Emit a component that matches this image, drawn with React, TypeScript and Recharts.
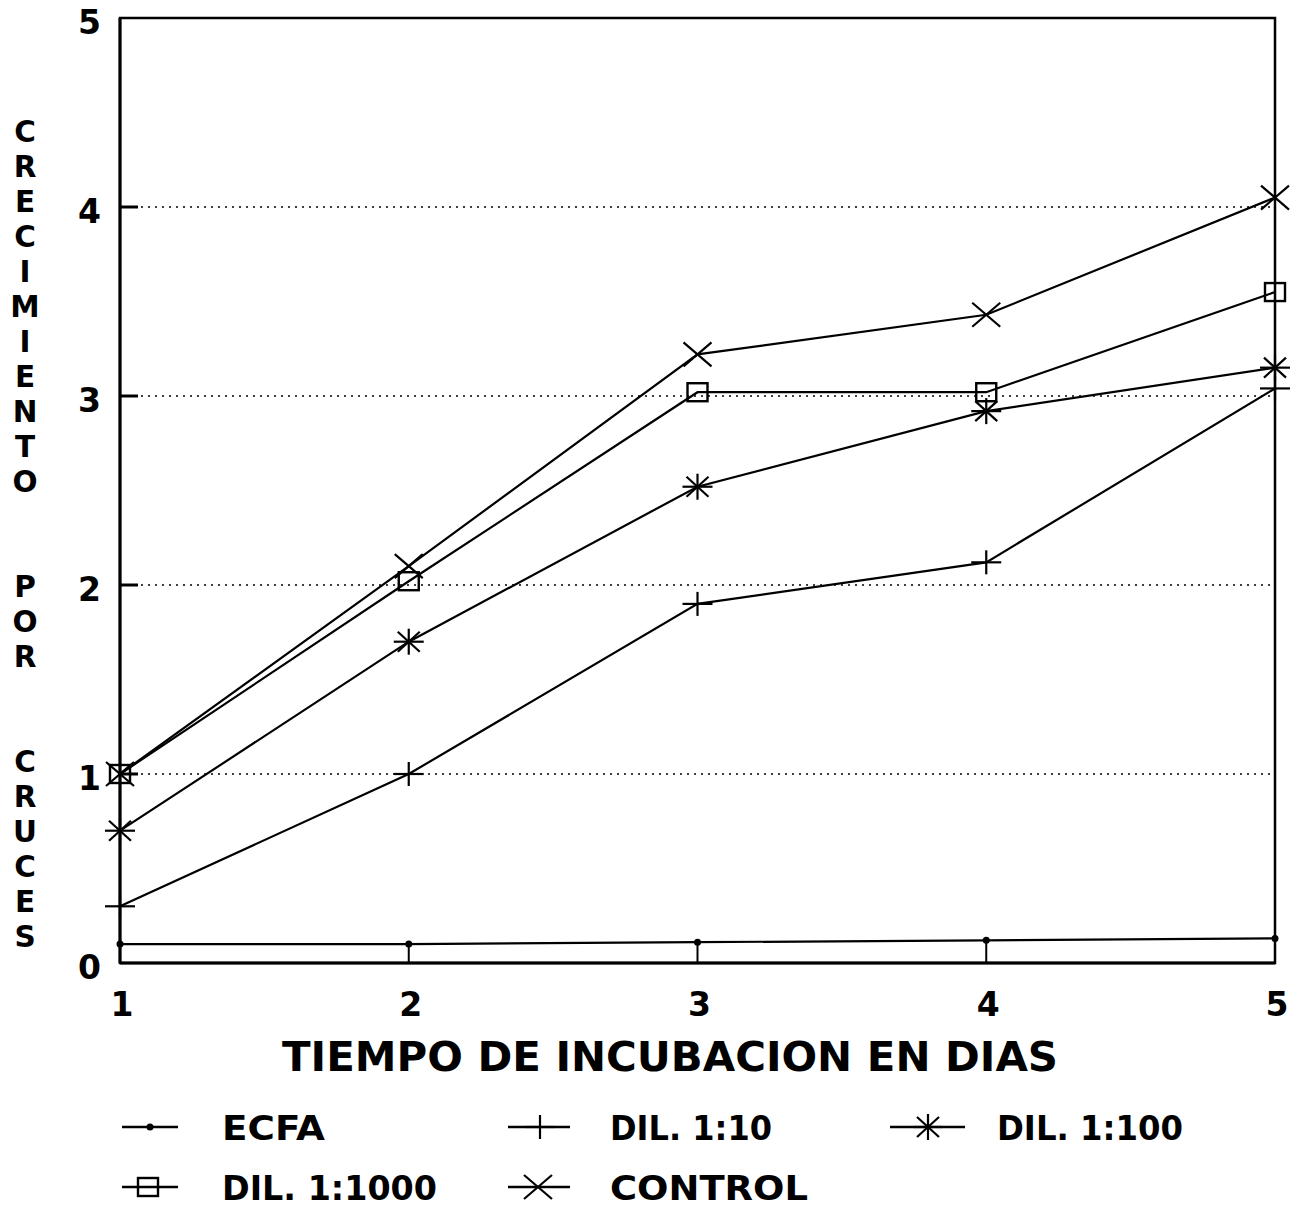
import React from "react";
import {
  LineChart,
  Line,
  XAxis,
  YAxis,
  CartesianGrid,
  ReferenceArea,
} from "recharts";

const days = [1, 2, 3, 4, 5];
const ecfa = [0.1, 0.1, 0.11, 0.12, 0.13];
const dil10 = [0.3, 1.0, 1.9, 2.12, 3.04];
const dil100 = [0.7, 1.7, 2.52, 2.92, 3.15];
const dil1000 = [1.0, 2.02, 3.02, 3.02, 3.55];
const control = [1.0, 2.1, 3.22, 3.43, 4.05];

const xTicks = [1, 2, 3, 4, 5];
const yTicks = [0, 1, 2, 3, 4, 5];

const seriesNames = ["ECFA", "DIL. 1:10", "DIL. 1:100", "DIL. 1:1000", "CONTROL"];
const seriesKeys = ["ecfa", "dil10", "dil100", "dil1000", "control"];
const seriesMarkers = ["dot", "plus", "star", "square", "cross"];

const xTitle = "TIEMPO DE INCUBACION EN DIAS";
const yTitle = "CRECIMIENTO  POR  CRUCES";

const data = days.map((d, i) => ({
  day: d,
  ecfa: ecfa[i],
  dil10: dil10[i],
  dil100: dil100[i],
  dil1000: dil1000[i],
  control: control[i],
}));

const FONT = "'DejaVu Sans', 'Liberation Sans', Arial, sans-serif";
const W = 1300;
const H = 1209;
const PLOT_LEFT = 120;
const PLOT_TOP = 18;
const PLOT_RIGHT = 1275;
const PLOT_BOTTOM = 963;

function Marker({ type, cx, cy }: { type: string; cx: number; cy: number }) {
  const s = "#000";
  if (type === "dot") return <circle cx={cx} cy={cy} r={3.5} fill={s} />;
  if (type === "plus")
    return (
      <g stroke={s} strokeWidth={2.2}>
        <line x1={cx - 15} y1={cy} x2={cx + 15} y2={cy} />
        <line x1={cx} y1={cy - 12} x2={cx} y2={cy + 12} />
      </g>
    );
  if (type === "star")
    return (
      <g stroke={s} strokeWidth={2.2}>
        <line x1={cx - 15} y1={cy} x2={cx + 15} y2={cy} />
        <line x1={cx} y1={cy - 13} x2={cx} y2={cy + 13} />
        <line x1={cx - 11} y1={cy - 10} x2={cx + 11} y2={cy + 10} />
        <line x1={cx - 11} y1={cy + 10} x2={cx + 11} y2={cy - 10} />
      </g>
    );
  if (type === "square")
    return <rect x={cx - 10} y={cy - 9} width={20} height={18} fill="none" stroke={s} strokeWidth={2.4} />;
  return (
    <g stroke={s} strokeWidth={2.2}>
      <line x1={cx - 14} y1={cy - 12} x2={cx + 14} y2={cy + 12} />
      <line x1={cx - 14} y1={cy + 12} x2={cx + 14} y2={cy - 12} />
    </g>
  );
}

const YTick = (props: any) => {
  const { payload } = props;
  const y = payload.coordinate;
  const v = payload.value;
  return (
    <g>
      {v > 0 && v < 5 && (
        <line x1={PLOT_LEFT} y1={y} x2={PLOT_LEFT + 18} y2={y} stroke="#000" strokeWidth={3} />
      )}
      <text
        x={PLOT_LEFT - 19}
        y={y + 16}
        textAnchor="end"
        fontFamily={FONT}
        fontWeight="bold"
        fontSize={33}
        fill="#000"
      >
        {v}
      </text>
    </g>
  );
};

const XTick = (props: any) => {
  const { payload } = props;
  const x = payload.coordinate;
  const v = payload.value;
  return (
    <g>
      {v > 1 && v < 5 && (
        <line x1={x} y1={PLOT_BOTTOM} x2={x} y2={PLOT_BOTTOM - 20} stroke="#000" strokeWidth={2} />
      )}
      <text
        x={x + 2}
        y={PLOT_BOTTOM + 53}
        textAnchor="middle"
        fontFamily={FONT}
        fontWeight="bold"
        fontSize={33}
        fill="#000"
      >
        {v}
      </text>
    </g>
  );
};

const legendPos = [
  { sx1: 122, sx2: 178, mx: 150, y: 1127, tx: 222, tw: 103 },
  { sx1: 508, sx2: 570, mx: 540, y: 1127, tx: 610, tw: 162 },
  { sx1: 890, sx2: 965, mx: 928, y: 1127, tx: 997, tw: 186 },
  { sx1: 122, sx2: 178, mx: 148, y: 1187, tx: 222, tw: 215 },
  { sx1: 508, sx2: 570, mx: 538, y: 1187, tx: 610, tw: 198 },
];

export default function App() {
  const letters = yTitle.split("");
  return (
    <div style={{ position: "relative", width: W, height: H, margin: "-8px 0 0 -8px", background: "#fff" }}>
      <LineChart
        width={W}
        height={H}
        data={data}
        margin={{ top: PLOT_TOP, right: W - PLOT_RIGHT, left: 0, bottom: 0 }}
      >
        <CartesianGrid
          vertical={false}
          stroke="#000"
          strokeWidth={1.4}
          strokeDasharray="2 5"
        />
        <XAxis
          dataKey="day"
          type="number"
          domain={[1, 5]}
          ticks={xTicks}
          height={H - PLOT_BOTTOM}
          axisLine={{ stroke: "#000", strokeWidth: 3 }}
          tickLine={false}
          tick={<XTick />}
          interval={0}
        />
        <YAxis
          type="number"
          domain={[0, 5]}
          ticks={yTicks}
          width={PLOT_LEFT}
          axisLine={{ stroke: "#000", strokeWidth: 3 }}
          tickLine={false}
          tick={<YTick />}
          interval={0}
        />
        <ReferenceArea
          x1={1}
          x2={5}
          y1={0}
          y2={5}
          fill="none"
          fillOpacity={0}
          stroke="#000"
          strokeWidth={2.5}
        />
        {seriesKeys.map((k, i) => (
          <Line
            key={k}
            dataKey={k}
            name={seriesNames[i]}
            type="linear"
            stroke="#000"
            strokeWidth={2.2}
            isAnimationActive={false}
            dot={(p: any) => (
              <Marker key={`${k}-${p.index}`} type={seriesMarkers[i]} cx={p.cx} cy={p.cy} />
            )}
            activeDot={false}
          />
        ))}
      </LineChart>
      <svg
        width={W}
        height={H}
        style={{ position: "absolute", left: 0, top: 0, pointerEvents: "none" }}
      >
        {letters.map((ch, k) =>
          ch === " " ? null : (
            <text
              key={k}
              x={25}
              y={130 + 35 * k + 12}
              textAnchor="middle"
              fontFamily={FONT}
              fontWeight="bold"
              fontSize={29.5}
              fill="#000"
            >
              {ch}
            </text>
          )
        )}
        <text
          x={282}
          y={1071}
          fontFamily={FONT}
          fontWeight="bold"
          fontSize={40}
          fill="#000"
          textLength={776}
          lengthAdjust="spacingAndGlyphs"
        >
          {xTitle}
        </text>
        {seriesNames.map((n, i) => {
          const p = legendPos[i];
          return (
            <g key={n}>
              <line x1={p.sx1} y1={p.y} x2={p.sx2} y2={p.y} stroke="#000" strokeWidth={2.5} />
              <Marker type={seriesMarkers[i]} cx={p.mx} cy={p.y} />
              <text
                x={p.tx}
                y={p.y + 13}
                fontFamily={FONT}
                fontWeight="bold"
                fontSize={33}
                fill="#000"
                textLength={p.tw}
                lengthAdjust="spacingAndGlyphs"
              >
                {n}
              </text>
            </g>
          );
        })}
      </svg>
    </div>
  );
}
